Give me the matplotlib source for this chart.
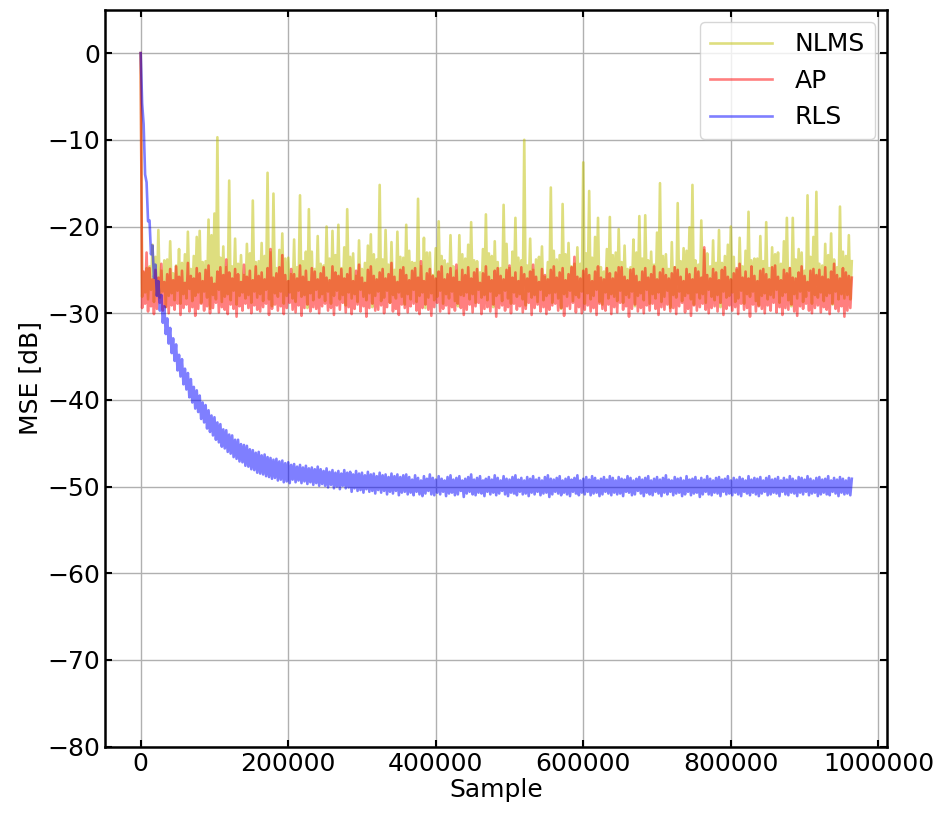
import numpy as np
import matplotlib

matplotlib.use("Agg")
import matplotlib.pyplot as plt

# Values. Each curve is stored as two small
# lists: the upper edge at samples 0, 4000, 8000, ... and the lower edge at
# samples 2000, 6000, 10000, ...; the line zig-zags between them.
HALF_STEP = 2000

nlms_peak_db = [
    0.0,
    -25.3, -24.8, -24.6, -22.1, -23.5, -20.4, -25.1, -23.9, -23.8, -21.7,
    -25.4, -24.5, -22.6, -24.2, -23.2, -20.6, -24.9, -23.4, -21.2, -20.5,
    -24.1, -24.0, -19.2, -21.0, -18.5, -9.7, -23.6, -22.3, -24.7, -14.7,
    -24.6, -21.4, -24.3, -23.3, -25.6, -22.0, -23.1, -17.0, -24.1, -24.0,
    -21.9, -23.4, -13.8, -23.0, -16.2, -24.8, -22.7, -20.8, -23.7, -23.6,
    -25.5, -21.5, -24.7, -16.4, -24.0, -22.9, -18.0, -22.9, -24.9, -21.1,
    -24.3, -24.5, -20.0, -23.7, -20.5, -23.3, -19.8, -24.8, -22.4, -18.0,
    -23.5, -23.1, -25.7, -21.6, -24.9, -24.2, -22.2, -20.9, -23.2, -23.8,
    -15.2, -23.8, -20.4, -24.4, -21.8, -25.0, -20.6, -23.5, -23.6, -19.8,
    -22.8, -24.1, -24.2, -16.8, -24.6, -21.3, -23.0, -23.0, -25.6, -22.5,
    -19.4, -23.4, -23.9, -24.3, -21.0, -24.6, -25.1, -21.0, -23.2, -23.7,
    -22.1, -19.5, -23.9, -24.0, -25.3, -22.6, -18.6, -23.1, -23.4, -21.7,
    -24.1, -24.8, -17.5, -22.0, -24.8, -22.9, -19.0, -23.6, -23.9, -10.0,
    -24.5, -21.4, -25.0, -23.8, -23.5, -22.3, -25.8, -24.1, -15.5, -22.8,
    -23.8, -23.3, -17.4, -23.2, -21.9, -24.6, -24.3, -22.4, -24.3, -12.6,
    -23.1, -15.9, -23.6, -21.2, -19.0, -24.7, -25.2, -22.6, -18.9, -23.3,
    -23.0, -20.3, -24.1, -22.2, -24.9, -24.7, -21.5, -23.0, -18.8, -23.7,
    -18.7, -23.9, -22.9, -24.4, -20.7, -15.0, -23.4, -23.2, -24.9, -21.8,
    -24.7, -17.3, -24.0, -22.5, -22.8, -20.1, -15.2, -23.9, -24.4, -19.3,
    -22.7, -23.1, -24.6, -21.6, -24.2, -20.4, -24.2, -23.4, -22.1, -20.0,
    -23.5, -25.0, -21.3, -24.6, -22.8, -18.3, -23.9, -23.7, -23.7, -21.1,
    -24.0, -19.5, -24.8, -22.4, -23.2, -23.0, -24.3, -21.7, -19.0, -24.8,
    -19.0, -23.8, -22.6, -23.0, -25.1, -16.4, -23.5, -21.2, -16.0, -24.3,
    -24.5, -22.0, -23.3, -20.8, -23.8, -24.7, -17.7, -22.9, -23.4, -21.0,
    -24.0,
]
nlms_trough_db = [
    -28.1, -27.6, -28.4, -27.3, -28.7, -27.9, -28.2, -27.5, -29.3, -28.0,
    -27.7, -28.5, -27.4, -28.9, -27.8, -28.3, -27.2, -28.6, -28.0, -27.6,
    -28.8, -27.5, -28.2, -29.5, -27.9, -28.4, -27.3, -28.7, -28.1, -27.8,
    -28.5, -27.4, -29.0, -28.0, -27.6, -28.3, -27.9, -28.8, -27.5, -28.2,
    -27.8, -28.6, -27.3, -28.4, -29.2, -27.7, -28.1, -27.5, -28.9, -28.0,
    -27.6, -28.3, -28.7, -27.4, -28.1, -27.9, -29.4, -27.7, -28.5, -27.3,
    -28.2, -27.8, -28.6, -27.5, -28.9, -28.0, -27.4, -28.4, -27.9, -29.1,
    -27.6, -28.3, -27.8, -28.7, -27.3, -28.1, -28.5, -27.7, -29.3, -28.0,
    -27.5, -28.6, -28.2, -27.4, -28.8, -27.9, -28.3, -27.6, -28.1, -29.0,
    -27.8, -28.4, -27.3, -28.7, -28.0, -27.6, -29.4, -28.2, -27.7, -28.5,
    -28.1, -27.4, -28.9, -27.8, -28.3, -27.5, -28.6, -29.2, -27.9, -28.0,
    -27.6, -28.4, -27.8, -28.8, -27.3, -28.2, -27.9, -28.5, -27.5, -29.3,
    -28.0, -27.7, -28.6, -27.4, -28.3, -28.9, -27.6, -28.1, -27.8, -28.4,
    -29.1, -27.5, -28.2, -27.9, -28.7, -27.3, -28.5, -28.0, -27.7, -28.8,
    -27.6, -28.3, -29.5, -27.8, -28.1, -27.4, -28.6, -27.9, -28.2, -27.5,
    -28.9, -27.7, -28.4, -28.0, -27.3, -28.7, -29.0, -27.6, -28.3, -27.8,
    -28.1, -28.6, -27.4, -28.8, -27.9, -28.2, -27.5, -29.2, -28.0, -27.7,
    -28.5, -27.3, -28.9, -27.8, -28.3, -27.6, -28.7, -28.1, -27.4, -29.4,
    -27.9, -28.2, -27.5, -28.6, -28.0, -27.7, -28.4, -29.0, -27.6, -28.3,
    -27.8, -28.8, -27.3, -28.1, -28.5, -27.9, -29.3, -27.5, -28.2, -28.0,
    -27.6, -28.7, -28.3, -27.4, -28.9, -27.8, -28.1, -27.5, -28.6, -29.1,
    -28.0, -27.7, -28.4, -27.9, -28.2, -27.3, -28.8, -28.0, -27.6, -28.5,
    -29.2, -27.8, -28.3, -27.5, -28.7, -28.1, -27.4, -28.9, -27.9, -28.2,
    -27.6, -28.6, -28.0, -27.7, -29.0, -27.5, -28.4, -27.8, -28.3, -27.9,
    -28.4,
]

ap_peak_db = [
    0.0,
    -25.2, -23.0, -24.8, -26.1, -25.0, -25.9, -24.3, -26.4, -25.5, -24.9,
    -26.2, -24.6, -25.8, -25.1, -26.5, -24.2, -25.7, -26.0, -24.8, -25.4,
    -26.3, -25.0, -24.5, -25.9, -26.6, -25.2, -24.7, -25.6, -23.8, -25.3,
    -26.0, -24.9, -25.5, -26.4, -24.4, -25.8, -25.1, -26.2, -24.6, -25.7,
    -25.3, -26.1, -24.8, -22.6, -25.9, -25.4, -24.7, -23.3, -25.6, -26.3,
    -24.9, -25.5, -26.0, -24.5, -25.8, -25.1, -26.4, -24.8, -25.2, -26.1,
    -25.4, -24.7, -25.9, -26.2, -24.6, -25.3, -25.7, -24.9, -26.0, -25.5,
    -24.8, -26.3, -25.1, -24.4, -25.9, -26.5, -25.0, -24.6, -25.7, -26.1,
    -25.3, -24.9, -26.0, -25.5, -24.2, -25.8, -26.4, -25.0, -24.7, -25.6,
    -26.2, -25.1, -24.8, -25.9, -24.0, -26.3, -25.4, -24.9, -25.7, -26.0,
    -25.2, -24.6, -26.1, -25.5, -24.8, -25.9, -24.4, -26.4, -25.0, -25.6,
    -24.7, -26.0, -25.3, -24.9, -26.5, -25.4, -24.6, -25.8, -26.2, -25.1,
    -24.8, -25.7, -26.1, -25.0, -24.5, -25.9, -25.3, -26.3, -24.7, -25.5,
    -26.0, -25.2, -24.4, -25.8, -26.4, -24.9, -25.6, -26.1, -25.0, -24.6,
    -25.9, -25.3, -24.8, -26.2, -25.5, -24.7, -23.5, -25.8, -26.0, -25.1,
    -24.9, -25.6, -26.3, -25.2, -24.6, -25.9, -26.1, -24.8, -25.4, -26.0,
    -25.3, -24.7, -24.7, -25.8, -26.2, -25.0, -24.9, -25.7, -26.4, -25.2,
    -24.8, -25.9, -25.5, -24.6, -26.1, -25.3, -24.9, -25.6, -26.0, -25.4,
    -24.7, -25.0, -25.8, -26.3, -24.9, -25.5, -26.1, -24.8, -25.2, -25.9,
    -22.4, -25.6, -26.0, -24.9, -25.3, -26.2, -25.0, -24.7, -25.8, -26.1,
    -25.4, -24.8, -24.3, -25.9, -25.2, -26.0, -24.6, -25.7, -26.3, -25.1,
    -24.9, -25.5, -26.1, -24.7, -24.5, -25.8, -26.2, -25.0, -25.4, -24.8,
    -25.9, -26.0, -25.3, -24.6, -25.7, -26.4, -25.1, -24.9, -25.6, -25.0,
    -25.8, -24.7, -26.1, -25.2, -24.3, -25.6, -26.0, -24.8, -25.3, -25.7,
    -25.9,
]
ap_trough_db = [
    -29.4, -28.9, -29.8, -29.2, -30.1, -29.5, -28.8, -29.7, -29.3, -30.0,
    -29.1, -29.6, -28.9, -30.2, -29.4, -29.0, -29.8, -29.3, -30.3, -29.5,
    -28.9, -29.7, -29.2, -30.0, -29.4, -28.8, -29.9, -29.3, -29.6, -30.1,
    -29.0, -29.5, -30.4, -29.2, -29.7, -28.9, -29.4, -30.0, -29.1, -29.6,
    -29.8, -29.3, -28.9, -30.2, -29.5, -29.0, -29.7, -29.2, -30.1, -29.4,
    -28.8, -29.6, -29.9, -29.1, -30.3, -29.4, -29.0, -29.8, -29.3, -29.5,
    -30.0, -29.2, -28.9, -29.7, -29.4, -30.2, -29.1, -29.6, -28.8, -29.9,
    -29.3, -30.1, -29.5, -29.0, -29.8, -29.2, -30.4, -29.4, -28.9, -29.7,
    -29.6, -29.1, -30.0, -29.3, -28.8, -29.8, -29.5, -30.2, -29.0, -29.4,
    -29.9, -29.2, -28.9, -29.7, -30.1, -29.4, -29.0, -29.6, -30.3, -29.3,
    -28.8, -29.8, -29.5, -29.1, -30.0, -29.3, -29.7, -28.9, -29.4, -30.2,
    -29.6, -29.0, -29.9, -29.2, -28.8, -30.1, -29.5, -29.3, -29.8, -29.0,
    -30.4, -29.4, -29.1, -29.7, -29.3, -30.0, -28.9, -29.6, -29.2, -29.9,
    -29.5, -28.8, -30.2, -29.4, -29.0, -29.8, -29.3, -30.1, -29.6, -29.1,
    -28.9, -29.7, -29.4, -30.3, -29.2, -29.5, -28.8, -29.9, -29.3, -30.0,
    -29.6, -29.1, -29.8, -29.4, -30.2, -28.9, -29.5, -29.7, -29.0, -30.1,
    -29.3, -29.9, -28.8, -29.6, -29.2, -30.4, -29.5, -29.0, -29.8, -29.4,
    -30.0, -29.1, -29.7, -28.9, -29.5, -30.2, -29.3, -29.6, -29.0, -29.8,
    -29.4, -30.1, -29.2, -28.8, -29.9, -29.5, -30.3, -29.1, -29.7, -29.3,
    -28.9, -29.6, -30.0, -29.4, -29.2, -29.8, -28.8, -30.2, -29.5, -29.1,
    -29.7, -29.3, -30.1, -28.9, -29.6, -29.4, -30.4, -29.0, -29.8, -29.2,
    -29.5, -30.0, -29.1, -29.7, -28.8, -29.9, -29.3, -30.2, -29.4, -29.6,
    -29.0, -29.8, -30.3, -29.2, -29.5, -28.9, -29.7, -30.0, -29.4, -29.1,
    -29.9, -29.3, -29.6, -30.1, -28.9, -29.5, -29.8, -29.2, -30.4, -29.7,
    -29.4,
]

rls_peak_db = [
    0.0,
    -8.2, -14.9, -19.3, -22.2, -24.4, -26.3, -27.9, -29.2, -30.6, -31.7,
    -32.9, -33.6, -34.8, -35.3, -36.4, -36.9, -37.6, -38.5, -38.9, -39.5,
    -40.3, -40.6, -41.2, -41.8, -42.0, -42.6, -42.8, -43.4, -43.5, -44.0,
    -44.1, -44.6, -44.6, -45.1, -45.2, -45.3, -45.7, -45.8, -46.1, -46.0,
    -46.4, -46.3, -46.6, -46.7, -46.9, -46.8, -47.1, -47.0, -47.3, -47.2,
    -47.5, -47.4, -47.7, -47.5, -47.8, -47.6, -47.9, -47.8, -48.0, -47.7,
    -48.0, -48.2, -47.9, -48.3, -48.1, -48.4, -48.2, -48.5, -48.1, -48.4,
    -48.3, -48.6, -48.2, -48.5, -48.4, -48.7, -48.3, -48.6, -48.5, -48.8,
    -48.4, -48.7, -48.6, -48.9, -48.5, -48.8, -48.6, -48.9, -48.7, -48.6,
    -48.9, -49.2, -48.7, -49.0, -49.3, -48.8, -49.1, -48.6, -49.0, -49.2,
    -48.8, -49.1, -49.3, -48.9, -48.7, -49.2, -49.0, -48.8, -49.3, -49.1,
    -48.9, -48.6, -49.2, -49.0, -48.8, -49.3, -49.1, -48.9, -49.2, -48.7,
    -49.0, -49.3, -48.8, -49.1, -49.2, -48.9, -48.7, -49.2, -49.0, -49.3,
    -48.9, -49.1, -48.8, -49.2, -49.0, -49.3, -48.9, -48.7, -49.1, -49.2,
    -49.0, -48.8, -49.3, -49.1, -48.9, -49.2, -49.0, -48.7, -49.3, -49.1,
    -48.9, -49.2, -48.8, -49.0, -49.3, -49.1, -48.9, -49.2, -48.8, -49.0,
    -49.3, -48.9, -49.1, -49.2, -48.8, -49.0, -49.3, -49.1, -48.9, -49.2,
    -49.0, -48.8, -49.3, -49.1, -48.9, -49.2, -49.0, -48.7, -49.2, -49.3,
    -48.9, -49.1, -49.0, -49.3, -48.8, -49.2, -49.1, -48.9, -49.3, -49.0,
    -49.2, -48.8, -49.1, -49.3, -49.0, -48.9, -49.2, -49.1, -48.8, -49.3,
    -49.0, -49.2, -48.9, -49.1, -49.3, -48.8, -49.2, -49.0, -49.1, -48.9,
    -49.3, -49.0, -48.8, -49.2, -49.1, -48.9, -49.3, -49.0, -49.2, -48.8,
    -49.1, -49.3, -48.9, -49.0, -49.2, -48.8, -49.1, -49.3, -49.0, -48.9,
    -49.2, -49.1, -48.8, -49.3, -49.0, -49.2, -48.9, -49.1, -49.3, -49.0,
    -49.1,
]
rls_trough_db = [
    -5.8, -14.0, -19.4, -23.2, -25.9, -28.0, -29.7, -31.1, -32.4, -33.5,
    -34.6, -35.5, -36.6, -37.3, -38.2, -38.8, -39.7, -40.3, -41.0, -41.4,
    -42.2, -42.6, -43.3, -43.7, -44.1, -44.6, -44.9, -45.4, -45.6, -46.0,
    -46.2, -46.6, -46.8, -47.1, -47.2, -47.6, -47.7, -48.0, -48.1, -48.4,
    -48.5, -48.6, -48.8, -48.9, -49.1, -49.0, -49.3, -49.2, -49.5, -49.4,
    -49.6,
    -49.2, -49.5, -49.3, -49.6, -49.4, -49.7, -49.5, -49.8, -49.6, -49.9,
    -49.7, -49.9, -50.1, -49.8, -50.2, -50.0, -50.3, -49.9, -50.2, -50.1,
    -50.6, -50.2, -50.5, -50.4, -50.7, -50.3, -50.6, -50.5, -50.8, -50.4,
    -50.7, -50.5, -50.9, -50.6, -50.8, -50.5, -51.0, -50.7, -50.6, -50.9,
    -50.7, -51.0, -50.6, -50.9, -51.1, -50.8, -50.5, -50.9, -51.0, -50.7,
    -50.9, -50.6, -51.1, -50.8, -50.7, -51.0, -50.9, -50.5, -51.2, -50.8,
    -50.6, -50.9, -51.0, -50.7, -50.8, -51.1, -50.6, -50.9, -50.7, -51.0,
    -50.8, -50.5, -50.9, -51.1, -50.7, -50.8, -51.0, -50.6, -50.9, -50.8,
    -51.1, -50.7, -50.9, -50.6, -51.0, -50.8, -50.7, -51.2, -50.9, -50.6,
    -50.8, -51.0, -50.7, -50.9, -51.1, -50.6, -50.8, -51.0, -50.7, -50.9,
    -50.6, -51.0, -50.8, -50.7, -51.1, -50.9, -50.6, -50.8, -51.0, -50.7,
    -50.9, -50.8, -51.1, -50.6, -50.7, -51.0, -50.9, -50.5, -50.8, -51.1,
    -50.7, -50.9, -51.0, -50.6, -50.8, -51.1, -50.7, -50.9, -50.6, -51.0,
    -50.8, -50.7, -51.1, -50.9, -50.6, -51.0, -50.8, -50.7, -51.2, -50.9,
    -50.6, -50.9, -51.0, -50.7, -50.8, -51.1, -50.6, -50.9, -50.8, -51.0,
    -50.7, -50.9, -51.1, -50.6, -50.8, -51.0, -50.7, -50.9, -51.1, -50.8,
    -50.6, -51.0, -50.9, -50.7, -50.8, -51.1, -50.6, -50.9, -51.0, -50.7,
    -50.8, -51.1, -50.7, -50.9, -50.6, -51.0, -50.8, -50.7, -51.1, -50.9,
    -50.7, -50.9, -51.0, -50.6, -50.8, -51.1, -50.7, -50.9, -50.8, -51.0,
]

series_names = ["NLMS", "AP", "RLS"]
series_colors = ["y", "r", "b"]
y_ticks = [0, -10, -20, -30, -40, -50, -60, -70, -80]
x_ticks = [0, 200000, 400000, 600000, 800000, 1000000]

plt.rcParams["font.family"] = ["DejaVu Sans"]
plt.rcParams["font.size"] = 18


def zigzag(peaks: list[float], troughs: list[float]) -> np.ndarray:
    out = np.empty(len(peaks) + len(troughs))
    out[0::2] = peaks
    out[1::2] = troughs
    return out


def main() -> None:
    fig = plt.figure(figsize=(9.47, 8.16), dpi=100)
    ax = fig.add_axes([0.111, 0.085, 0.826, 0.903])

    curves = [
        zigzag(nlms_peak_db, nlms_trough_db),
        zigzag(ap_peak_db, ap_trough_db),
        zigzag(rls_peak_db, rls_trough_db),
    ]
    for name, color, values in zip(series_names, series_colors, curves):
        samples = np.arange(len(values)) * HALF_STEP
        ax.plot(samples, values, color=color, alpha=0.5, lw=1.9, label=name)

    ax.set_ylim(-80, 5)
    ax.set_yticks(y_ticks)
    ax.set_xticks(x_ticks)
    ax.set_xticklabels([str(t) for t in x_ticks])
    ax.grid(True, color="#b0b0b0", lw=1.0)
    ax.tick_params(direction="in", top=True, right=True, length=5, width=1.5)
    for spine in ax.spines.values():
        spine.set_linewidth(1.8)
    ax.set_xlabel("Sample", labelpad=2)
    ax.set_ylabel("MSE [dB]", labelpad=4)
    ax.legend(loc="upper right", fontsize=18, handlelength=2.5, handletextpad=0.9)

    fig.savefig("out.png", dpi=100)
    plt.close(fig)


if __name__ == "__main__":
    main()
